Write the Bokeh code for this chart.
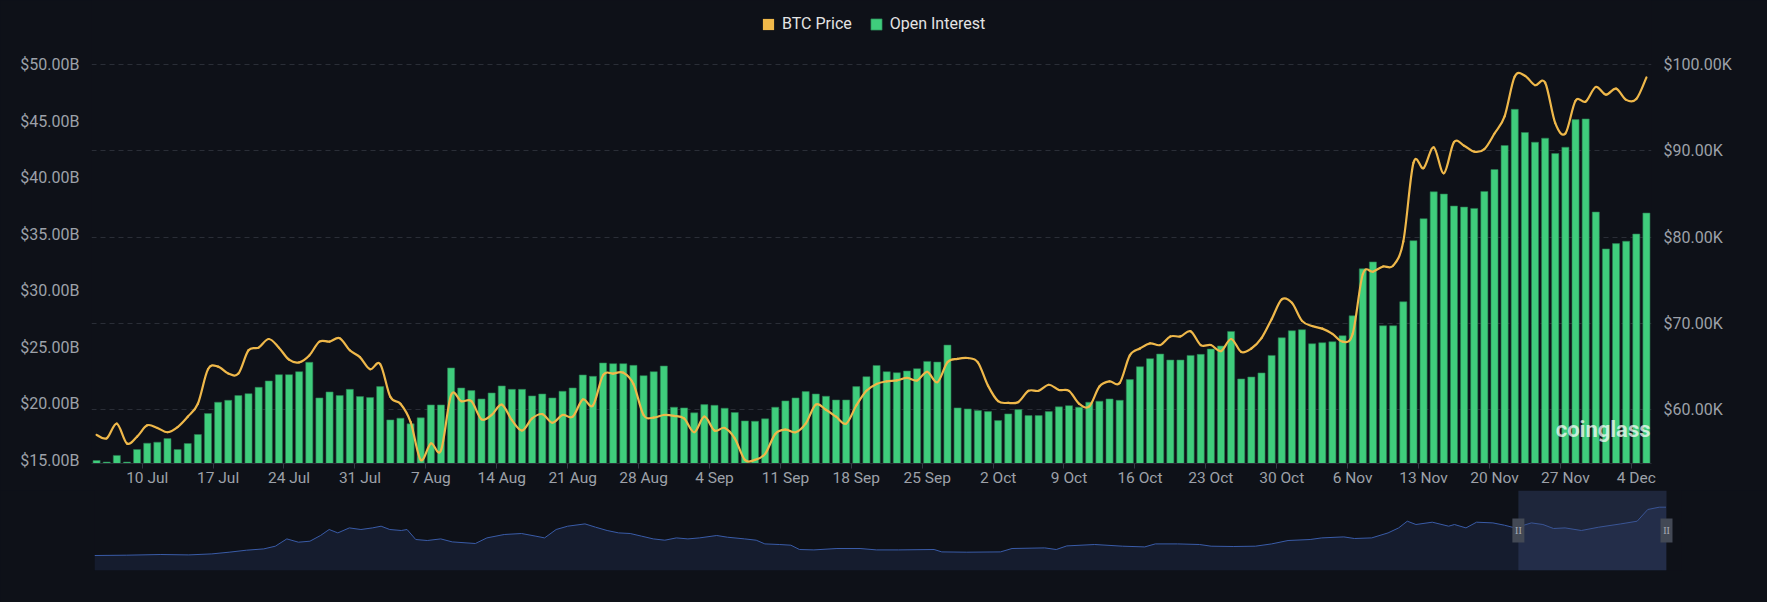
import pandas as pd
from bokeh.plotting import figure
from bokeh.models import (ColumnDataSource, Range1d, LinearAxis, FixedTicker,
                          CustomJSTickFormatter, Legend, LegendItem, Label)
from bokeh.layouts import column
from bokeh.embed import file_html
from bokeh.resources import INLINE

# ---------------- data ----------------
dates = pd.date_range("2024-07-05", "2024-12-05", freq="D")
date_labels = [f"{d.day} {d.strftime('%b')}" for d in dates]

tick_labels = ["10 Jul", "17 Jul", "24 Jul", "31 Jul", "7 Aug", "14 Aug", "21 Aug",
               "28 Aug", "4 Sep", "11 Sep", "18 Sep", "25 Sep", "2 Oct", "9 Oct",
               "16 Oct", "23 Oct", "30 Oct", "6 Nov", "13 Nov", "20 Nov", "27 Nov",
               "4 Dec"]

# Open interest, billions USD
open_interest = [
    15.00, 14.86, 15.45, 14.86, 15.97, 16.53, 16.62, 16.94, 15.97, 16.50,
    17.30, 19.15, 20.15, 20.32, 20.74, 20.91, 21.47, 22.03, 22.59, 22.59,
    22.85, 23.68, 20.53, 21.06, 20.74, 21.29, 20.65, 20.56, 21.53, 18.59,
    18.74, 18.24, 18.77, 19.91, 19.91, 23.18, 21.41, 21.18, 20.44, 20.97,
    21.59, 21.29, 21.29, 20.71, 20.88, 20.53, 21.12, 21.41, 22.56, 22.44,
    23.62, 23.56, 23.56, 23.41, 22.50, 22.85, 23.35, 19.71, 19.65, 19.21,
    19.94, 19.88, 19.62, 19.24, 18.50, 18.47, 18.68, 19.71, 20.27, 20.53,
    21.09, 20.88, 20.68, 20.35, 20.35, 21.53, 22.41, 23.40, 22.85, 22.76,
    22.91, 23.12, 23.76, 23.70, 25.20, 19.65, 19.56, 19.41, 19.32, 18.53,
    19.12, 19.50, 18.97, 18.97, 19.32, 19.74, 19.85, 19.71, 20.15, 20.24,
    20.44, 20.32, 22.15, 23.29, 24.00, 24.41, 23.88, 23.88, 24.29, 24.38,
    24.85, 25.12, 26.41, 22.21, 22.38, 22.74, 24.29, 25.85, 26.47, 26.56,
    25.32, 25.41, 25.50, 26.03, 27.79, 31.94, 32.55, 26.91, 26.91, 29.03,
    34.43, 36.37, 38.75, 38.55, 37.49, 37.40, 37.28, 38.78, 40.72, 42.84,
    46.04, 43.99, 43.13, 43.49, 42.13, 42.69, 45.13, 45.19, 36.96, 33.70,
    34.17, 34.38, 35.02, 36.87,
]

# BTC price, USD
btc_price = [
    57100, 56700, 58400, 56100, 56900, 58200, 57900, 57400, 58000, 59200,
    60700, 64700, 65000, 64200, 64200, 66900, 67200, 68200, 67200, 65800,
    65500, 66300, 67900, 67900, 68300, 66900, 66100, 64700, 65300, 61500,
    60700, 58600, 54200, 56100, 55300, 61700, 61000, 61000, 58900, 59400,
    60600, 58800, 57600, 59000, 59500, 58500, 59400, 59200, 61200, 60500,
    64000, 64200, 64300, 63000, 59400, 59100, 59400, 59300, 59000, 57400,
    59200, 57600, 57900, 56700, 54200, 54200, 54900, 57200, 57700, 57400,
    58400, 60600, 60000, 59200, 58400, 60500, 62200, 63000, 63300, 63400,
    63700, 63400, 64400, 63200, 65500, 65900, 66000, 65500, 62800, 61000,
    60800, 60900, 62200, 62200, 62900, 62300, 62200, 60700, 60400, 62700,
    63300, 63100, 66300, 67100, 67700, 67500, 68500, 68500, 69100, 67500,
    67500, 66800, 68200, 66700, 67100, 68300, 70500, 72800, 72400, 70300,
    69700, 69400, 68800, 67900, 68800, 75700, 76000, 76600, 76700, 79500,
    88600, 88000, 90400, 87400, 91000, 90600, 89900, 90200, 92000, 94000,
    98600, 98700, 97600, 97900, 93200, 92000, 95800, 95700, 97400, 96500,
    97200, 95900, 96000, 98500,
]

# overview (data-zoom) series: day offset from 5 Jul 2024, relative level
overview_day = [
    -1481, -1448, -1412, -1383, -1359, -1341, -1323, -1305, -1293, -1281,
    -1269, -1257, -1246, -1237, -1228, -1216, -1204, -1192, -1183, -1174,
    -1162, -1156, -1147, -1135, -1121, -1109, -1085, -1073, -1055, -1037,
    -1022, -1013, -1001, -989, -971, -960, -948, -936, -924, -912,
    -900, -888, -876, -864, -852, -834, -823, -805, -793, -784,
    -769, -757, -748, -733, -709, -685, -668, -645, -608, -600,
    -574, -539, -527, -493, -481, -470, -441, -412, -389, -378,
    -355, -332, -320, -297, -274, -257, -240, -217, -205, -182,
    -171, -153, -136, -125, -116, -107, -90, -73, -67, -55,
    -44, -27, -15, -4, 13, 25, 36, 48, 65, 83,
    106, 123, 134, 146, 153,
]
overview_level = [
    15.0, 15.3, 16.0, 15.6, 16.6, 18.3, 20.3, 21.6, 24.3, 31.6,
    28.3, 29.3, 35.0, 41.0, 37.6, 42.6, 41.0, 42.6, 44.3, 41.0,
    40.0, 41.0, 31.0, 30.0, 31.6, 28.6, 27.0, 32.6, 36.0, 37.0,
    34.3, 32.6, 41.0, 44.3, 46.6, 43.3, 40.0, 37.6, 37.0, 34.3,
    31.6, 30.3, 32.6, 31.6, 32.6, 35.0, 33.3, 31.6, 30.3, 26.6,
    26.0, 25.3, 21.0, 20.6, 22.0, 22.0, 20.6, 20.6, 21.0, 18.6,
    18.3, 18.6, 22.0, 22.6, 21.0, 24.6, 26.0, 24.3, 23.6, 26.6,
    26.6, 26.0, 24.3, 24.0, 24.3, 26.6, 30.0, 31.0, 32.6, 33.6,
    32.0, 32.6, 37.6, 42.6, 49.3, 46.0, 48.3, 44.3, 46.0, 42.6,
    48.3, 47.6, 45.3, 42.6, 47.6, 46.0, 42.0, 42.6, 40.0, 43.3,
    46.6, 49.3, 61.0, 63.3, 63.3,
]

# ---------------- style ----------------
BG = "#0e1118"
BAR = "#3fcd7c"
LINE = "#efb84a"
LABEL = "#9da1a9"
AXIS = "#2a2e37"
FONT = "Roboto"

idx = list(range(len(dates)))
ticks = [date_labels.index(t) for t in tick_labels]
oi_min, oi_max = 14.735, 55.657
price_min, price_max = 53780, 107411

src = ColumnDataSource(dict(x=idx, oi=open_interest, price=btc_price))

p = figure(width=1767, height=490, x_range=Range1d(-0.5, len(idx) - 0.5),
           y_range=Range1d(price_min, price_max), y_axis_location="right",
           output_backend="svg", toolbar_location=None,
           min_border_left=91, min_border_right=116, min_border_top=0,
           min_border_bottom=27)
p.frame_align = False
p.background_fill_color = BG
p.border_fill_color = BG
p.outline_line_color = None
p.extra_y_ranges = {"oi": Range1d(oi_min, oi_max)}

# right (price) axis
ra = p.yaxis[0]
ra.ticker = FixedTicker(ticks=[60000, 70000, 80000, 90000, 100000])
ra.formatter = CustomJSTickFormatter(code="return '$' + (tick/1000).toFixed(2) + 'K';")

# left (OI) axis
la = LinearAxis(y_range_name="oi")
la.ticker = FixedTicker(ticks=[15, 20, 25, 30, 35, 40, 45, 50])
la.formatter = CustomJSTickFormatter(code="return '$' + tick.toFixed(2) + 'B';")
p.add_layout(la, "left")

for ax in (ra, la):
    ax.axis_line_color = None
    ax.major_tick_line_color = None
    ax.minor_tick_line_color = None
    ax.major_tick_out = 0
    ax.major_tick_in = 0
    ax.minor_tick_out = 0
    ax.minor_tick_in = 0
    ax.major_label_text_color = LABEL
    ax.major_label_text_font = FONT
    ax.major_label_text_font_size = "16px"
    ax.major_label_standoff = 12

# x axis: labels centred on the day, small tick marks at the day boundary
xa = p.xaxis[0]
xa.ticker = FixedTicker(ticks=ticks, minor_ticks=[t - 0.5 for t in ticks])
xa.major_label_overrides = {t: lab for t, lab in zip(ticks, tick_labels)}
xa.axis_line_color = AXIS
xa.major_tick_line_color = None
xa.major_tick_out = 0
xa.major_tick_in = 0
xa.minor_tick_line_color = "#343944"
xa.minor_tick_out = 5
xa.minor_tick_in = 0
xa.major_label_text_color = LABEL
xa.major_label_text_font = FONT
xa.major_label_text_font_size = "15.5px"
xa.major_label_standoff = 0

p.xgrid.visible = False
p.ygrid.grid_line_color = AXIS
p.ygrid.grid_line_dash = "5 4"
p.ygrid.grid_line_width = 1

bars = p.vbar(x="x", top="oi", bottom=oi_min, width=0.7, source=src,
              y_range_name="oi", fill_color=BAR, line_color="#2a7a50", line_width=0.6)

# smooth price curve: cubic segments through the daily points
n = len(btc_price)
x0, y0, x1, y1, cx0, cy0, cx1, cy1 = ([] for _ in range(8))
for i in range(n - 1):
    xm, ym = idx[max(i - 1, 0)], btc_price[max(i - 1, 0)]
    xa_, ya_ = idx[i], btc_price[i]
    xb, yb = idx[i + 1], btc_price[i + 1]
    xp, yp = idx[min(i + 2, n - 1)], btc_price[min(i + 2, n - 1)]
    x0.append(xa_); y0.append(ya_); x1.append(xb); y1.append(yb)
    cx0.append(xa_ + (xb - xm) / 6); cy0.append(ya_ + (yb - ym) / 6)
    cx1.append(xb - (xp - xa_) / 6); cy1.append(yb - (yp - ya_) / 6)
p.bezier(x0=x0, y0=y0, x1=x1, y1=y1, cx0=cx0, cy0=cy0, cx1=cx1, cy1=cy1,
         line_color=LINE, line_width=2.2, line_cap="round")

# legend proxy for the price square (one NaN row: draws nothing in the plot)
nan = float("nan")
proxy = p.vbar(x=[nan], top=[nan], bottom=[nan], width=0.7,
               fill_color=LINE, line_color=None)

legend = Legend(items=[LegendItem(label="BTC Price", renderers=[proxy]),
                       LegendItem(label="Open Interest", renderers=[bars])],
                orientation="horizontal", location=(670, 430),
                glyph_width=14, glyph_height=14, label_standoff=7, spacing=17,
                padding=0, margin=0, background_fill_alpha=0, border_line_alpha=0,
                label_text_font=FONT, label_text_font_size="16px",
                label_text_color="#e4e4e4", label_height=14)
p.add_layout(legend, "center")

wm = Label(x=len(idx) - 0.6, y=57700, text="coinglass", text_align="right",
           text_baseline="middle", text_font=FONT, text_font_style="bold",
           text_font_size="22px", text_color="#ffffff", text_alpha=0.72)
p.add_layout(wm)

# ---------------- overview / data zoom ----------------
win_start, win_end = idx[0] - 0.5, idx[-1] + 0.5
m = figure(width=1767, height=112, x_range=Range1d(overview_day[0], win_end + 15.6),
           y_range=Range1d(0, 80), output_backend="svg", toolbar_location=None,
           min_border_left=94, min_border_right=86, min_border_top=0,
           min_border_bottom=32)
m.frame_align = False
m.background_fill_color = BG
m.border_fill_color = BG
m.outline_line_color = None
m.axis.visible = False
m.grid.visible = False
m.varea(x=overview_day, y1=0, y2=overview_level, fill_color="#151c2e")
m.line(overview_day, overview_level, line_color="#3a5ca8", line_width=1)
m.quad(left=[win_start], right=[win_end], bottom=[0], top=[80],
       fill_color="#3b4a75", fill_alpha=0.38, line_color=None)
m.rect(x=[win_start, win_end], y=[40, 40], width=12, height=24,
       width_units="screen", height_units="screen",
       fill_color="#434955", line_color=None)
m.text(x=[win_start, win_end], y=[40, 40], text=["II", "II"], text_align="center",
       text_baseline="middle", text_font_size="10px", text_color="#a8adb6",
       text_font=FONT)

layout = column(p, m, spacing=0)
layout.styles = {"background-color": BG}

open("out.html", "w").write(file_html(layout, INLINE))
